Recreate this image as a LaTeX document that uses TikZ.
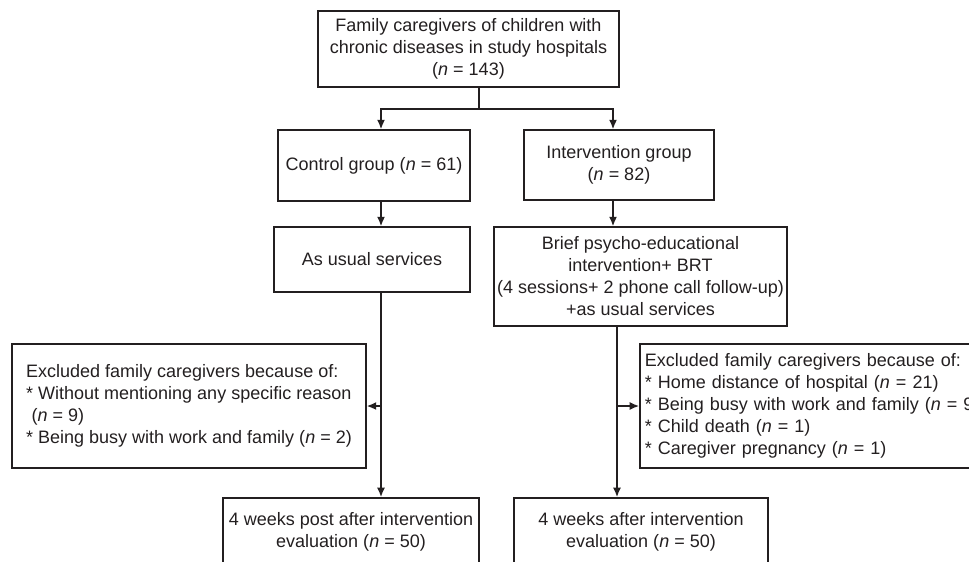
\documentclass[tikz,border=0pt]{standalone}
\usepackage{fontspec}
\setmainfont{Liberation Sans}
\usetikzlibrary{arrows.meta, positioning}
\definecolor{inkline}{RGB}{35,31,32}

\begin{document}
\begin{tikzpicture}[x=0.75pt,y=0.75pt,yscale=-1,xscale=1,
	font=\fontsize{13.5}{16.5}\selectfont, text=inkline,
	box/.style={draw=inkline, line width=1.3pt, align=center, inner sep=0pt},
	link/.style={draw=inkline, line width=1pt},
	arr/.style={link, -{Latex[length=7pt,width=6pt]}}]
	%set diagram left start at 0, and has height of 561
	\useasboundingbox (0,0) rectangle (969,561);
	\clip (0,0) rectangle (969,561);
	
	%Shape: Rectangle [id:pop]
	\node (pop) [box, minimum width=225.75pt, minimum height=57pt] at (468.5,49) {Family caregivers of children with\\chronic diseases in study hospitals\\(\textit{n} = 143)};
	%Shape: Rectangle [id:ctrl]
	\node (ctrl) [box, minimum width=144pt, minimum height=53.25pt] at (374,165.5) {Control group (\textit{n} = 61)};
	%Shape: Rectangle [id:intv]
	\node (intv) [box, minimum width=142.5pt, minimum height=52.5pt] at (619,165) {Intervention group\\(\textit{n} = 82)};
	%Shape: Rectangle [id:usual]
	\node (usual) [box, minimum width=147pt, minimum height=48.75pt] at (372,259.5) {As usual services};
	%Shape: Rectangle [id:brief]
	\node (brief) [box, minimum width=219.75pt, minimum height=74.25pt] at (640.5,276.5) {Brief psycho-educational\\intervention+ BRT\\(4 sessions+ 2 phone call follow-up)\\+as usual services};
	%Shape: Rectangle [id:exclL]
	\node (exclL) [box, align=left, minimum width=265.5pt, minimum height=93pt] at (189,406) {Excluded family caregivers because of:\\{}* Without mentioning any specific reason\\\hspace*{0.3em}(\textit{n} = 9)\\{}* Being busy with work and family (\textit{n} = 2)};
	%Shape: Rectangle [id:exclR]
	\node (exclR) [box, anchor=west, align=left, inner xsep=3.75pt, text width=262pt, minimum height=93pt] at (639,406) {Excluded family caregivers because of:\\{}* Home distance of hospital (\textit{n} = 21)\\{}* Being busy with work and family (\textit{n} = 9)\\{}* Child death (\textit{n} = 1)\\{}* Caregiver pregnancy (\textit{n} = 1)};
	%Shape: Rectangle [id:postL]
	\node (postL) [box, anchor=north, minimum width=192pt, minimum height=50.25pt] at (351,497) {4 weeks post after intervention\\evaluation (\textit{n} = 50)};
	%Shape: Rectangle [id:postR]
	\node (postR) [box, anchor=north, minimum width=190.5pt, minimum height=50.25pt] at (641,497) {4 weeks after intervention\\evaluation (\textit{n} = 50)};
	
	% lanes of the connectors
	\coordinate (mx) at (479,0);
	\coordinate (lx) at (381,0);
	\coordinate (rx) at (613,0);
	\coordinate (rx2) at (617,0);
	
	%Straight Lines [id:split]
	\draw [link] (pop.south -| mx) -- ++(0,21) coordinate (split);
	\draw [arr] (split) -| (ctrl.north -| lx);
	\draw [arr] (split) -| (intv.north -| rx);
	%Straight Lines [id:down]
	\draw [arr] (ctrl.south -| lx) -- (usual.north -| lx);
	\draw [arr] (intv.south -| rx) -- (brief.north -| rx);
	\draw [arr] (usual.south -| lx) -- (postL.north -| lx);
	\draw [arr] (brief.south -| rx2) -- (postR.north -| rx2);
	%Straight Lines [id:excluded]
	\draw [arr] (exclL.east -| lx) -- (exclL.east);
	\draw [arr] (exclR.west -| rx2) -- (exclR.west);
	
\end{tikzpicture}
\end{document}
